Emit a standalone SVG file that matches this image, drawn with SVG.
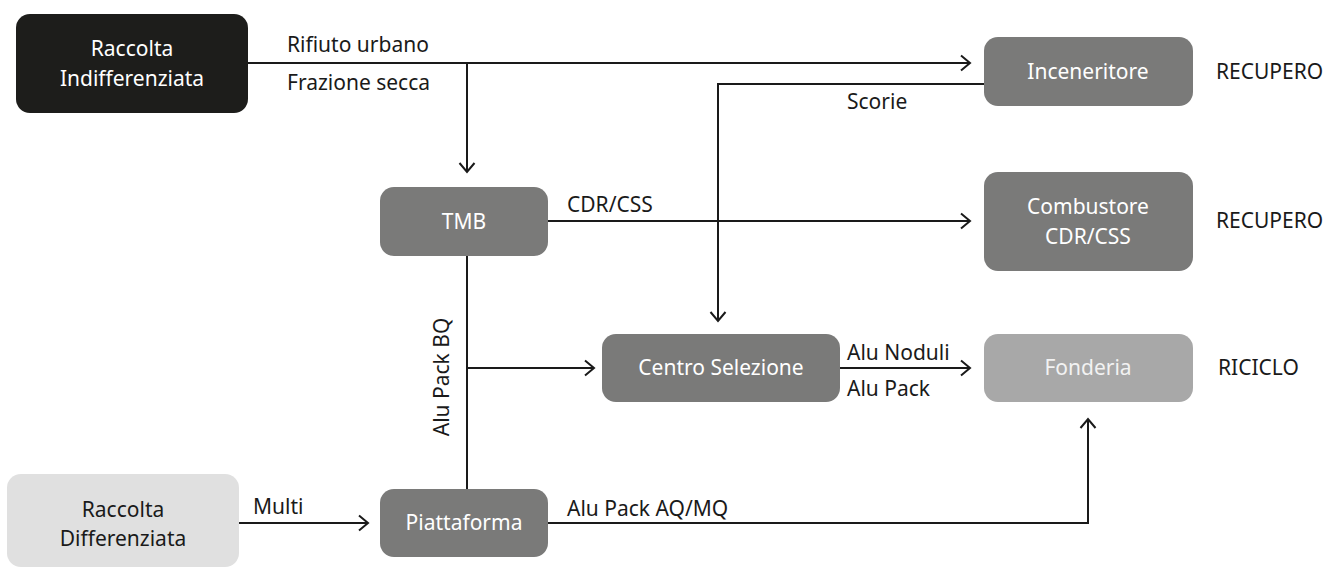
<svg xmlns="http://www.w3.org/2000/svg" width="1328" height="568" viewBox="0 0 1328 568">
<style>
text{font-family:"Noto Sans","Open Sans","Liberation Sans",sans-serif;font-size:21px;fill:#1a1a1a}
.nt{text-anchor:middle;fill:#ffffff}
.dark{fill:#1d1d1b}
.mid{fill:#7a7a79}
.light{fill:#a8a8a8}
.pale{fill:#e0e0e0}
.c{fill:none;stroke:#1a1a1a;stroke-width:2}
</style>
<defs>
<marker id="ah" viewBox="-12 -9 14 18" markerWidth="14" markerHeight="18" refX="0" refY="0" orient="auto" markerUnits="userSpaceOnUse">
<path d="M-9,-7.5 L0,0 L-9,7.5" fill="none" stroke="#1a1a1a" stroke-width="2"/>
</marker>
</defs>
<rect width="1328" height="568" fill="#ffffff"/>
<g id="connectors">
<path class="c" d="M248,63 H970" marker-end="url(#ah)"/>
<path class="c" d="M467,63 V172" marker-end="url(#ah)"/>
<path class="c" d="M984,84 H718 V321" marker-end="url(#ah)"/>
<path class="c" d="M548,221 H970" marker-end="url(#ah)"/>
<path class="c" d="M467,256 V489"/>
<path class="c" d="M467,368 H594" marker-end="url(#ah)"/>
<path class="c" d="M840,368 H970" marker-end="url(#ah)"/>
<path class="c" d="M239,523 H368" marker-end="url(#ah)"/>
<path class="c" d="M547,523 H1088 V419" marker-end="url(#ah)"/>
<text x="287" y="52">Rifiuto urbano</text>
<text x="287" y="90">Frazione secca</text>
<text x="847" y="109">Scorie</text>
<text x="567" y="212">CDR/CSS</text>
<text x="847" y="360">Alu Noduli</text>
<text x="847" y="396">Alu Pack</text>
<text x="253" y="514">Multi</text>
<text x="567" y="516">Alu Pack AQ/MQ</text>
<text transform="translate(449,377) rotate(-90)" text-anchor="middle">Alu Pack BQ</text>
</g>
<g id="raccolta-indifferenziata">
<rect class="dark" x="16" y="14" width="232" height="99" rx="14"/>
<text class="nt" x="132" y="56">Raccolta</text>
<text class="nt" x="132" y="86">Indifferenziata</text>
</g>
<g id="inceneritore">
<rect class="mid" x="984" y="37" width="209" height="69" rx="14"/>
<text class="nt" x="1088" y="79">Inceneritore</text>
</g>
<text x="1216" y="79">RECUPERO</text>
<g id="tmb">
<rect class="mid" x="380" y="187" width="168" height="69" rx="14"/>
<text class="nt" x="464" y="229">TMB</text>
</g>
<g id="combustore">
<rect class="mid" x="984" y="172" width="209" height="99" rx="14"/>
<text class="nt" x="1088" y="214">Combustore</text>
<text class="nt" x="1088" y="244">CDR/CSS</text>
</g>
<text x="1216" y="228">RECUPERO</text>
<g id="centro-selezione">
<rect class="mid" x="602" y="334" width="238" height="68" rx="14"/>
<text class="nt" x="721" y="375">Centro Selezione</text>
</g>
<g id="fonderia">
<rect class="light" x="984" y="334" width="209" height="68" rx="14"/>
<text class="nt" x="1088" y="375" style="fill:#f2f2f2">Fonderia</text>
</g>
<text x="1218" y="375">RICICLO</text>
<g id="raccolta-differenziata">
<rect class="pale" x="7" y="474" width="232" height="93" rx="14"/>
<text x="123" y="517" text-anchor="middle">Raccolta</text>
<text x="123" y="546" text-anchor="middle">Differenziata</text>
</g>
<g id="piattaforma">
<rect class="mid" x="380" y="489" width="168" height="68" rx="14"/>
<text class="nt" x="464" y="530">Piattaforma</text>
</g>
</svg>
